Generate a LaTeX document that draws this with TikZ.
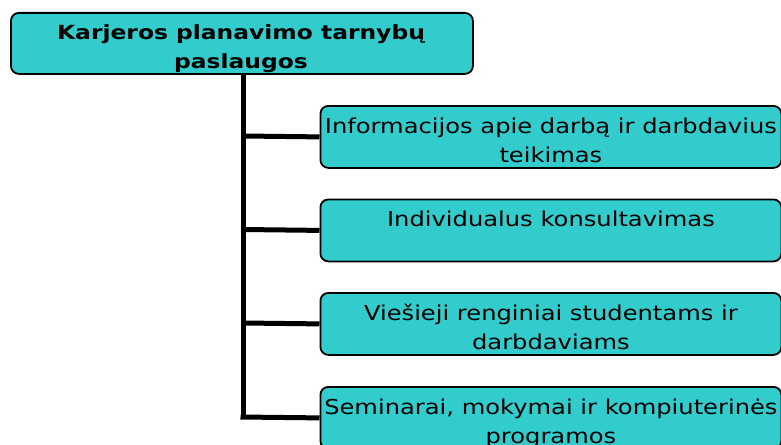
\documentclass[tikz,border=0pt]{standalone}
\usepackage{fontspec}
\setmainfont{DejaVu Sans}
\newfontfamily\widefont[FakeStretch=1.18]{DejaVu Sans}
\newfontfamily\widebold[FakeStretch=1.2]{DejaVu Sans Bold}
\definecolor{boxcyan}{HTML}{33CCCC}
\begin{document}
\begin{tikzpicture}[x=1pt,y=-1pt,
  boxstyle/.style={draw=black, line width=1.8pt, fill=boxcyan, rounded corners=8pt, inner sep=0pt, anchor=north west, minimum width=461pt, minimum height=62pt},
  txt/.style={anchor=north, align=center, inner sep=0pt, font=\widefont\fontsize{20.5}{29}\selectfont, yshift=-8pt},
  toptxt/.style={anchor=north, align=center, inner sep=0pt, font=\widebold\fontsize{19.5}{28.5}\selectfont},
  conn/.style={line width=5pt}]
\useasboundingbox (0,0) rectangle (781,444);
% trunk
\coordinate (trunktop) at (243,72);
\coordinate (trunkbot) at (243,417.5);
\node[boxstyle] (b1) at (319.5,105) {};
\node[boxstyle] (b2) at (319.5,198.5) {};
\node[boxstyle] (b3) at (319.5,292) {};
\node[boxstyle] (b4) at (319.5,386) {};
\draw[conn] (trunktop) -- (trunkbot);
\draw[conn] (243,136) -- (b1.west);
\draw[conn] (243,229.5) -- (b2.west);
\draw[conn] (243,323) -- (b3.west);
\draw[conn] (240.5,417) -- (b4.west);
\node[boxstyle, minimum width=462pt, minimum height=61pt] (top) at (10,12) {};
\begin{scope}
  \clip[rounded corners=8pt] (10.9,12.9) rectangle (471.1,72.1);
  \node[toptxt] (toplabel) at (241,19.5) {\rule{0pt}{20pt}Karjeros planavimo tarnybų\\paslaugos};
\end{scope}
\node[txt] (t1) at (b1.north) {\rule{0pt}{20pt}Informacijos apie darbą ir darbdavius\\teikimas};
\node[txt] (t2) at (b2.north) {\rule{0pt}{20pt}Individualus konsultavimas};
\node[txt] (t3) at (b3.north) {\rule{0pt}{20pt}Viešieji renginiai studentams ir\\darbdaviams};
\node[txt] (t4) at (b4.north) {\rule{0pt}{20pt}Seminarai, mokymai ir kompiuterinės\\programos};
\end{tikzpicture}
\end{document}
